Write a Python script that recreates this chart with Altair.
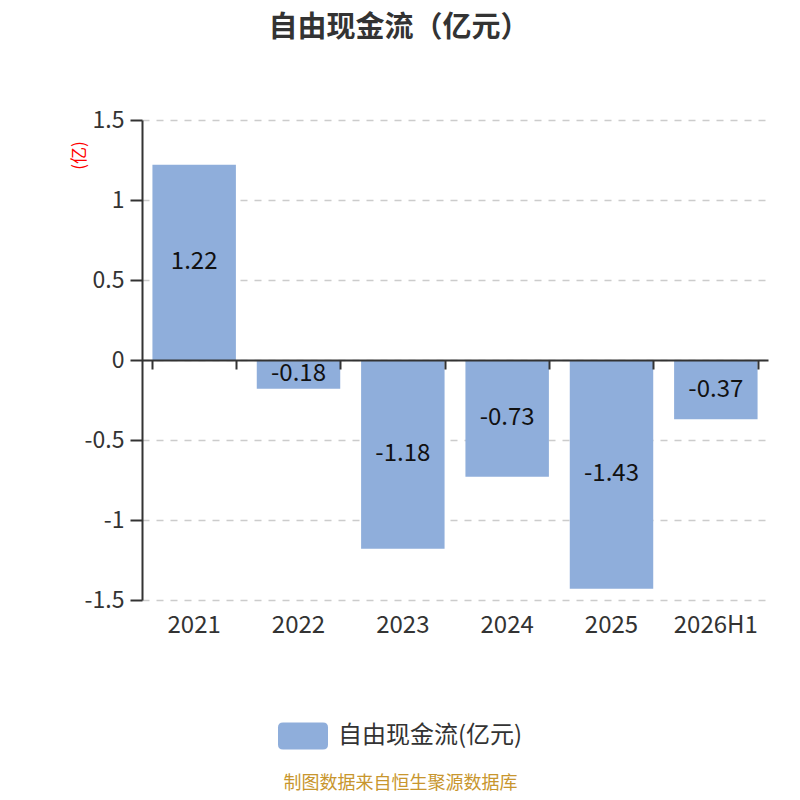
import altair as alt
import pandas as pd

categories = ["2021", "2022", "2023", "2024", "2025", "2026H1"]
values = [1.22, -0.18, -1.18, -0.73, -1.43, -0.37]
y_ticks = [-1.5, -1, -0.5, 0, 0.5, 1, 1.5]
series_name = "自由现金流(亿元)"
chart_title = "自由现金流（亿元）"
footer = "制图数据来自恒生聚源数据库"

df = pd.DataFrame({
    "cat": categories,
    "value": values,
    "label": [f"{v:.2f}" for v in values],
    "series": [series_name] * len(categories),
})
df["mid"] = df["value"] / 2

FONT = "Noto Sans CJK SC"
BAR = "#8FAEDB"

x_scale = alt.Scale(domain=categories, paddingInner=0.2, paddingOuter=0.1)
y_scale = alt.Scale(domain=[-1.5, 1.5], nice=False, zero=False)

y_axis = alt.Axis(values=y_ticks, labelExpr="'' + datum.value",
                  labelFontSize=23, labelColor="#333", labelFont=FONT,
                  labelPadding=6,
                  domain=True, domainColor="#333", domainWidth=2,
                  ticks=True, tickSize=12, tickColor="#333", tickWidth=2,
                  grid=True, gridDash=[7, 7], gridColor="#cccccc", gridWidth=1.5,
                  title="(亿)", titleColor="#ff0000", titleFontSize=17,
                  titleFontWeight="normal", titleFont=FONT,
                  titleX=-63, titleY=35, titleAngle=270,
                  titleAlign="center", titleBaseline="middle")

legend_path = ("M-0.8,-0.54 L0.8,-0.54 Q1,-0.54 1,-0.34 L1,0.34 Q1,0.54 0.8,0.54 "
               "L-0.8,0.54 Q-1,0.54 -1,0.34 L-1,-0.34 Q-1,-0.54 -0.8,-0.54 Z")

bars = alt.Chart(df).mark_bar().encode(
    x=alt.X("cat:N", sort=categories, scale=x_scale,
            axis=alt.Axis(orient="bottom", domain=False, ticks=False, grid=False,
                          labelAngle=0, labelFontSize=24, labelColor="#333",
                          labelPadding=13, labelFont=FONT,
                          title=footer, titleX=258, titleY=183, titleFontSize=18,
                          titleColor="#C8962E", titleFontWeight="normal",
                          titleBaseline="middle", titleAlign="center", titleFont=FONT)),
    y=alt.Y("value:Q", scale=y_scale, axis=y_axis),
    y2=alt.datum(0),
    color=alt.Color("series:N", scale=alt.Scale(range=[BAR]),
                    legend=alt.Legend(title=None, orient="none", legendX=136, legendY=591,
                                      symbolType=legend_path, symbolSize=2500,
                                      symbolStrokeWidth=0, symbolOpacity=1,
                                      labelFontSize=24, labelColor="#333", labelFont=FONT,
                                      labelOffset=10, labelLimit=400, padding=0)),
)

labels = alt.Chart(df).mark_text(fontSize=24, color="#111", font=FONT, baseline="middle").encode(
    x=alt.X("cat:N", sort=categories, scale=x_scale,
            axis=alt.Axis(orient="bottom", offset=-240, labels=False, grid=False,
                          domain=True, domainColor="#333", domainWidth=2,
                          ticks=True, tickBand="extent", tickSize=9, tickColor="#333",
                          tickWidth=2, title="", zindex=1)),
    y=alt.Y("mid:Q", scale=y_scale, axis=y_axis),
    text=alt.Text("label:N"),
)

chart = alt.layer(bars, labels).resolve_axis(x="independent").properties(
    width=626, height=480,
    autosize=alt.AutoSizeParams(type="none"),
    padding={"left": 134, "top": 112, "right": 24, "bottom": 192},
    title=alt.TitleParams(chart_title, fontSize=29, fontWeight="bold", color="#333",
                          font=FONT, anchor="middle", dx=-56, offset=66),
).configure_view(stroke=None)

chart.save("out.html", embed_options={"renderer": "svg", "actions": False})
